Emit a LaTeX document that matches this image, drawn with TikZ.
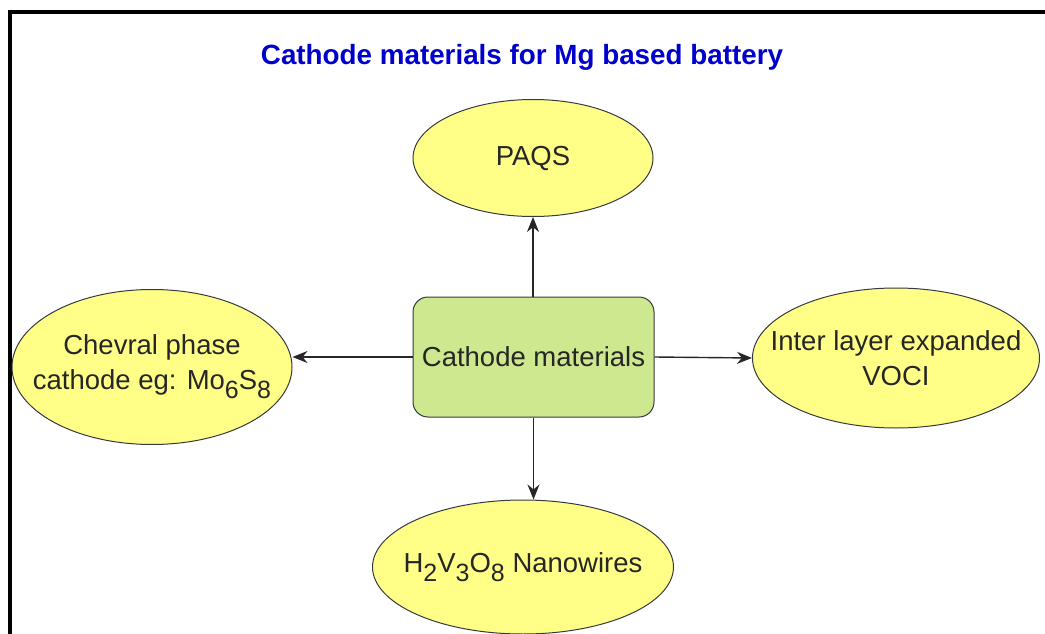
\documentclass[tikz,border=0pt]{standalone}
\usepackage{fontspec}
\setmainfont{Liberation Sans}
\usetikzlibrary{shapes.geometric,arrows.meta}
\definecolor{ellfill}{HTML}{FFFF88}
\definecolor{boxfill}{HTML}{CDE88F}
\definecolor{edge}{HTML}{36393D}
\definecolor{titleblue}{HTML}{0000CC}
\tikzset{
  ell/.style={ellipse, draw=edge, line width=1pt, fill=ellfill, inner sep=0pt},
  elltext/.style={font=\fontsize{27.5}{35}\selectfont, text=black!85, align=center, inner sep=0pt},
  centerbox/.style={rectangle, rounded corners=15pt, draw=edge, line width=1pt, fill=boxfill,
    inner sep=0pt, font=\fontsize{27.5}{34}\selectfont, text=black!85},
  conn/.style={line width=1.4pt, draw=black!85, -{Stealth[length=15pt,width=12pt]}},
  frame/.style={line width=4pt, draw=black},
}
\newcommand{\sbs}[1]{\raisebox{-0.32em}{\fontsize{25}{25}\selectfont #1}}
\begin{document}
\begin{tikzpicture}[x=1pt,y=-1pt]
\useasboundingbox (0,0) rectangle (1045,634);
\draw[frame] (1047,12) -- (10,12) -- (10,636);
\node[font=\bfseries\fontsize{27.8}{32}\selectfont, text=titleblue] (title) at (522,57) {Cathode materials for Mg based battery};
\node[centerbox, minimum width=241pt, minimum height=120pt] (c) at (533.5,357) {Cathode materials};
\node[ell, minimum width=240pt, minimum height=117pt,
  label={[elltext]center:PAQS}] (paqs) at (533,158) {};
\node[ell, minimum width=280pt, minimum height=155pt,
  label={[elltext]center:{Chevral phase\\cathode eg: Mo\sbs{6}S\sbs{8}}}] (chev) at (152,367) {};
\node[ell, minimum width=287pt, minimum height=140pt,
  label={[elltext]center:{Inter layer expanded\\VOCI}}] (voci) at (896,358) {};
\node[ell, minimum width=301pt, minimum height=134pt,
  label={[elltext]center:{H\sbs{2}V\sbs{3}O\sbs{8} Nanowires}}] (h2v) at (523,567) {};
\draw[conn] (c.north -| paqs.south) -- (paqs.south);
\draw[conn] (c.west) -- (chev.east |- c.west);
\draw[conn] (c.east) -- (voci.west);
\draw[conn] (c.south) -- (c.south |- h2v.north);
\end{tikzpicture}
\end{document}
